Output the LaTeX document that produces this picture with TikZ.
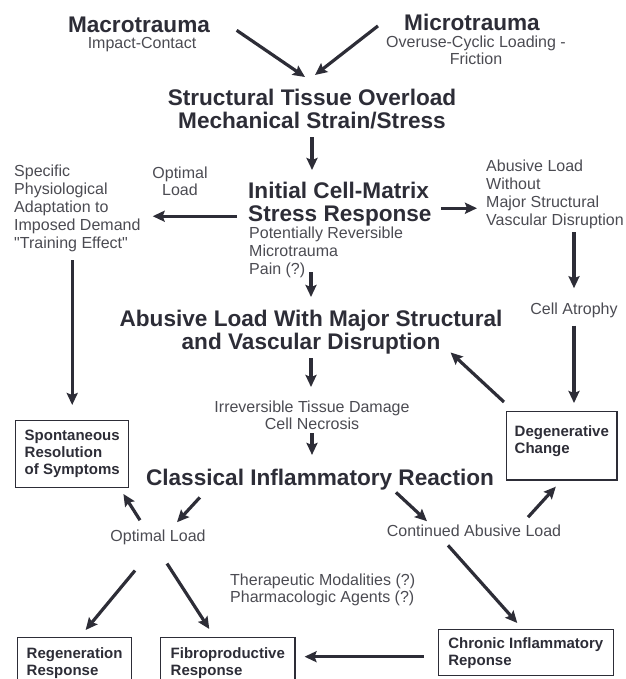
\documentclass[tikz,border=0pt]{standalone}
\usepackage{fontspec}
\setmainfont{Liberation Sans}[Ligatures=TeXOff]
\usetikzlibrary{arrows.meta,calc}
\definecolor{inkgray}{RGB}{45,45,55}
\definecolor{notegray}{RGB}{75,75,82}

\begin{document}
\begin{tikzpicture}[
  x=1pt, y=-1pt,
  headtxt/.style={font=\fontsize{22.6}{23}\selectfont\bfseries,text=inkgray,inner sep=0pt,align=center},
  notetxt/.style={font=\fontsize{16}{18}\selectfont,text=notegray,inner sep=0pt},
  tightnote/.style={notetxt,font=\fontsize{16}{17}\selectfont},
  outcome/.style={draw=inkgray,line width=1.4pt,font=\fontsize{15}{17}\selectfont\bfseries,
                  text=inkgray,align=left,inner xsep=9pt,inner ysep=9.5pt},
  flow/.style={-{Stealth[length=12pt,width=11pt,inset=2pt]},line width=3.2pt,draw=inkgray},
]
  \useasboundingbox (0,0) rectangle (625,679);
  \clip (0,0) rectangle (625,679);
  % Trauma sources
  \node[headtxt,anchor=base] (macro) at (139,33) {Macrotrauma};
  \node[notetxt,anchor=base] (impact) at (142,49) {Impact-Contact};
  \node[headtxt,anchor=base] (micro) at (472,31) {Microtrauma};
  \node[tightnote,anchor=north,align=center] (overuse) at (476,36) {Overuse-Cyclic Loading -\\Friction};
  % Main column
  \node[headtxt,anchor=north] (struct) at (312,89) {Structural Tissue Overload\\Mechanical Strain/Stress};
  \node[headtxt,anchor=north west,align=left] (initial) at (248,182) {Initial Cell-Matrix\\Stress Response};
  \node[notetxt,anchor=north west,align=left] (potential) at (249,227) {Potentially Reversible\\Microtrauma\\Pain (?)};
  \node[headtxt,anchor=north] (abusivewith) at (311,310) {Abusive Load With Major Structural\\and Vascular Disruption};
  \node[tightnote,anchor=north,align=center] (irrev) at (312,401) {Irreversible Tissue Damage\\Cell Necrosis};
  \node[headtxt,anchor=base] (classical) at (320,485.5) {Classical Inflammatory Reaction};
  % Left branch
  \node[notetxt,anchor=north west,align=left] (specific) at (14,165)
    {Specific\\Physiological\\Adaptation to\\Imposed Demand\\"Training Effect"};
  \node[tightnote,anchor=north,align=center] (optimalA) at (180,167) {Optimal\\Load};
  \node[outcome,anchor=north west] (spont) at (15,420) {Spontaneous\\Resolution\\of Symptoms};
  % Right branch
  \node[notetxt,anchor=north west,align=left] (abusivewo) at (486,160)
    {Abusive Load\\Without\\Major Structural\\Vascular Disruption};
  \node[notetxt,anchor=base] (atrophy) at (574,314) {Cell Atrophy};
  \node[outcome,anchor=north west,inner xsep=8pt,inner ysep=13.6pt,text depth=13.2pt] (degen) at (506,411)
    {Degenerative\\Change};
  % Lower part
  \node[notetxt,anchor=base] (optimalB) at (158,541) {Optimal Load};
  \node[notetxt,anchor=base] (continued) at (474,536) {Continued Abusive Load};
  \node[tightnote,anchor=north west,align=left] (therapy) at (230,574)
    {Therapeutic Modalities (?)\\Pharmacologic Agents (?)};
  \node[outcome,anchor=north west] (regen) at (17,637) {Regeneration\\Response};
  \node[outcome,anchor=north west,inner xsep=10pt] (fibro) at (160,637) {Fibroproductive\\Response};
  \node[outcome,anchor=north east,inner xsep=10pt,inner ysep=7.5pt] (chronic) at (614,629)
    {Chronic Inflammatory\\Reponse};

  % Arrows, top
  \draw[flow] ($(macro.east)+(26.5,5)$) -- ($(struct.north)+(-7,-12)$);
  \draw[flow] ($(micro.west)+(-26,3)$) -- ($(struct.north)+(3,-14)$);
  \draw[flow,shorten <=8pt,shorten >=12pt] (struct.south) -- (struct.south |- initial.north);
  \draw[flow,shorten <=11pt,shorten >=12pt] ($(initial.west)+(0,12)$) -- ($(specific.east |- initial.west)+(0,12)$);
  \draw[flow,shorten <=9pt,shorten >=9pt] ($(initial.east)+(0,4)$) -- ($(abusivewo.west |- initial.east)+(0,4)$);
  % Arrows, main column
  \draw[flow,xshift=-4pt,shorten <=-6pt,shorten >=13pt] (abusivewith.north |- potential.south) -- (abusivewith.north);
  \draw[flow,xshift=-4pt,shorten <=4pt,shorten >=14pt] (abusivewith.south) -- (abusivewith.south |- irrev.north);
  \draw[flow,xshift=-3pt,shorten <=3pt,shorten >=14pt] (irrev.south) -- (irrev.south |- classical.north);
  % Arrows, sides
  \draw[flow,xshift=-5pt,shorten <=8pt,shorten >=15pt] (spont.north |- specific.south) -- (spont.north);
  \draw[flow,xshift=-9pt,shorten <=3pt,shorten >=14pt] (atrophy.north |- abusivewo.south) -- (atrophy.north);
  \draw[flow,xshift=-8pt,shorten <=8pt,shorten >=8pt] (atrophy.south) -- (atrophy.south |- degen.north);
  \draw[flow] ($(degen.north west)+(-2,-9)$) -- ($(abusivewith.south east)+(-52,-2)$);
  % Arrows, inflammation
  \draw[flow] ($(classical.south west)+(54,7)$) -- ($(optimalB.north)+(19,-7)$);
  \draw[flow] ($(optimalB.north)+(-18,-9)$) -- ($(spont.south east)+(-6,6)$);
  \draw[flow] ($(classical.south)+(76,2)$) -- ($(continued.north)+(-47,-3)$);
  \draw[flow] ($(continued.north)+(54,-7)$) -- ($(degen.south)+(-6,6)$);
  \draw[flow] ($(continued.south)+(-26,9)$) -- ($(chronic.north)+(-8.5,-6)$);
  \draw[flow] ($(optimalB.south)+(-23,26)$) -- ($(regen.north)+(11,-7)$);
  \draw[flow] ($(optimalB.south)+(9,19)$) -- ($(fibro.north)+(-18.5,-8)$);
  \draw[flow,shorten <=14pt,shorten >=9pt] ($(chronic.west)+(0,4)$) -- ($(fibro.east |- chronic.west)+(0,4)$);
\end{tikzpicture}
\end{document}
